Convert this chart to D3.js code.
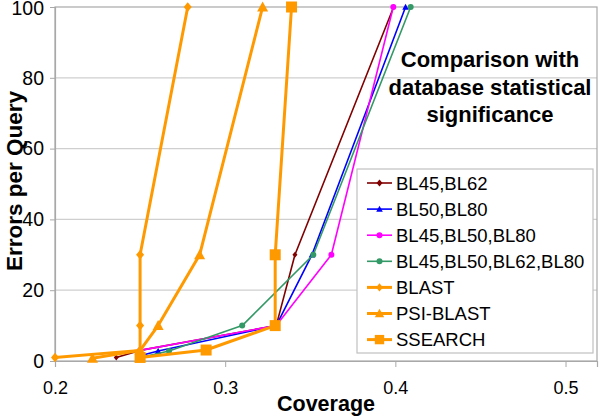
<!DOCTYPE html>
<html><head><meta charset="utf-8">
<script src="https://cdn.jsdelivr.net/npm/d3@7"></script>
<style>body{margin:0;background:#fff}svg{display:block;font-family:"Liberation Sans",Arial,sans-serif}</style>
</head><body><svg id="c" width="600" height="419"></svg>
<script>
const seriesNames = ["BL45,BL62","BL50,BL80","BL45,BL50,BL80","BL45,BL50,BL62,BL80","BLAST","PSI-BLAST","SSEARCH"];
const bl45bl62 = [[0.236,1],[0.25,3],[0.33,10],[0.341,30],[0.399,100]];
const bl50bl80 = [[0.25,1.5],[0.2606,2.8],[0.33,10],[0.351,30],[0.406,100]];
const bl45bl50bl80 = [[0.25,3],[0.33,10],[0.3624,30],[0.3988,100]];
const bl45bl50bl62bl80 = [[0.25,1],[0.267,2.8],[0.31,10],[0.3518,30],[0.409,100]];
const blast = [[0.2,1],[0.25,3],[0.25,10],[0.25,30],[0.278,100]];
const psiblast = [[0.222,0.8],[0.25,3],[0.2606,10],[0.285,30],[0.322,100]];
const ssearch = [[0.25,1],[0.2888,3.1],[0.3294,10],[0.3294,30],[0.339,100]];
const xTicks = [0.2,0.3,0.4,0.5];
const yTicks = [0,20,40,60,80,100];
const titleLines = ["Comparison with","database statistical","significance"];

const colors = ["#800000","#0000ff","#ff00ff","#339966","#ff9900","#ff9900","#ff9900"];
const shapes = ["diamond","triangle","circle","circle","diamond","triangle","square"];
const widths = [1.6,1.6,1.6,1.6,3,3,3];
const msize = [5,6,6,6,8,10,11];
const data = [bl45bl62,bl50bl80,bl45bl50bl80,bl45bl50bl62bl80,blast,psiblast,ssearch];

const svg = d3.select("#c");
const xMax = 0.5185;
const x = d3.scaleLinear().domain([0.2,xMax]).range([55,597]);
const y = d3.scaleLinear().domain([0,100]).range([361,7]);

// gridlines
svg.append("g").selectAll("line").data(yTicks.filter(d=>d>0&&d<100)).join("line")
  .attr("x1",x(0.2)).attr("x2",x(xMax)).attr("y1",d=>y(d)).attr("y2",d=>y(d))
  .attr("stroke","#cfcfcf").attr("stroke-width",1.2);
// frame
svg.append("rect").attr("x",x(0.2)).attr("y",y(100)).attr("width",x(xMax)-x(0.2)).attr("height",y(0)-y(100))
  .attr("fill","none").attr("stroke","#a8a8a8").attr("stroke-width",1.2);

// axes
const xAxis = svg.append("g").attr("transform",`translate(0,${y(0)})`)
  .call(d3.axisBottom(x).tickValues(xTicks).tickFormat(d3.format(".1f")).tickSize(6).tickPadding(14));
const yAxis = svg.append("g").attr("transform",`translate(${x(0.2)},0)`)
  .call(d3.axisLeft(y).tickValues(yTicks).tickSize(5).tickPadding(6));
[xAxis,yAxis].forEach(a=>{
  a.select(".domain").attr("stroke","#a8a8a8").attr("stroke-width",1.2);
  a.selectAll(".tick line").attr("stroke","#a8a8a8");
  a.selectAll("text").attr("fill","#000").attr("font-family","Liberation Sans, Arial, sans-serif");
});
xAxis.selectAll("text").attr("font-size",18);
yAxis.selectAll("text").attr("font-size",19.5);
yAxis.selectAll(".tick").filter(d=>d===100).select("text").attr("y",1.5);

// axis titles
svg.append("text").attr("x",326).attr("y",411).attr("text-anchor","middle")
  .attr("font-size",21.5).attr("font-weight","bold").text("Coverage");
svg.append("text").attr("transform","translate(22,181) rotate(-90)").attr("text-anchor","middle")
  .attr("font-size",22.5).attr("font-weight","bold").text("Errors per Query");

// title
svg.append("g").selectAll("text").data(titleLines).join("text")
  .attr("x",490).attr("y",(d,i)=>67+i*27.5).attr("text-anchor","middle")
  .attr("font-size",22).attr("font-weight","bold").text(d=>d);

function symbolPath(shape,size){
  const s=size;
  if(shape==="diamond") return `M0,${-s/2*1.2}L${s/2},0L0,${s/2*1.2}L${-s/2},0Z`;
  if(shape==="triangle") return `M0,${-s*0.55}L${s*0.55},${s*0.45}L${-s*0.55},${s*0.45}Z`;
  if(shape==="square") return `M${-s/2},${-s/2}H${s/2}V${s/2}H${-s/2}Z`;
  return d3.symbol(d3.symbolCircle, Math.PI*(s/2)*(s/2))();
}

const line = d3.line().x(d=>x(d[0])).y(d=>y(d[1]));
data.forEach((ser,i)=>{
  const g = svg.append("g");
  g.append("path").attr("d",line(ser)).attr("fill","none").attr("stroke",colors[i])
    .attr("stroke-width",widths[i]).attr("stroke-linejoin","round");
  g.selectAll("path.m").data(ser).join("path").attr("class","m")
    .attr("transform",d=>`translate(${x(d[0])},${y(d[1])})`)
    .attr("d",symbolPath(shapes[i],msize[i])).attr("fill",colors[i]);
});

// legend
const lg = svg.append("g");
lg.append("rect").attr("x",357).attr("y",169).attr("width",236).attr("height",184)
  .attr("fill","#fff").attr("stroke","#c0c0c0").attr("stroke-width",1.2);
seriesNames.forEach((n,i)=>{
  const cy = 183 + i*26.1;
  lg.append("line").attr("x1",367).attr("x2",392).attr("y1",cy).attr("y2",cy)
    .attr("stroke",colors[i]).attr("stroke-width",widths[i]);
  lg.append("path").attr("transform",`translate(379.5,${cy})`)
    .attr("d",symbolPath(shapes[i],i<4?Math.max(msize[i],6):msize[i]*0.85)).attr("fill",colors[i]);
  lg.append("text").attr("x",396).attr("y",cy+6.5).attr("font-size",18.5).text(n);
});
</script></body></html>
